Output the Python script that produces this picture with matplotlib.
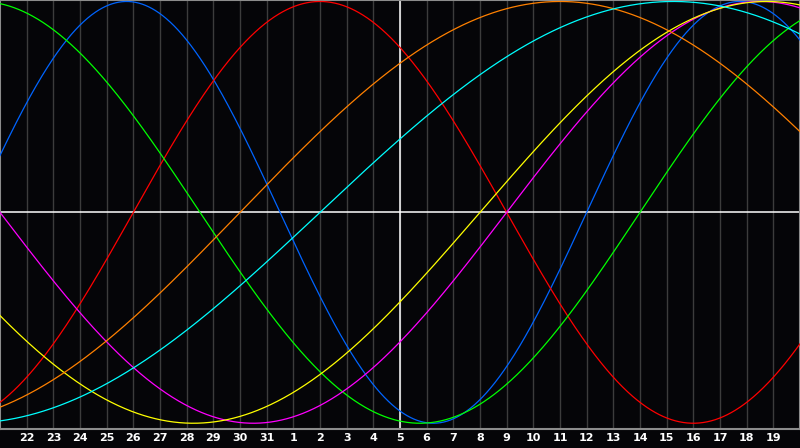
import numpy as np
import matplotlib
matplotlib.use('Agg')
import matplotlib.pyplot as plt

# days of the month shown along the bottom (first and last slot unlabeled)
day_labels = ['22', '23', '24', '25', '26', '27', '28', '29', '30', '31',
              '1', '2', '3', '4', '5', '6', '7', '8', '9', '10',
              '11', '12', '13', '14', '15', '16', '17', '18', '19']
num_days = 30

# days lived at the left edge of the chart
days_lived = 30039

# cycles: physical, emotional, intellectual, intuitive, aesthetic, awareness, spiritual
cycle_names = ['physical', 'emotional', 'intellectual', 'intuitive',
               'aesthetic', 'awareness', 'spiritual']
cycle_periods = [23, 28, 33, 38, 43, 48, 53]
cycle_colors = ['#0064ff', '#ff0000', '#00ff00', '#ff00ff',
                '#ffff00', '#ff8000', '#00ffff']

bg = '#050508'

fig = plt.figure(figsize=(8, 4.48), dpi=100, facecolor=bg)
ax = fig.add_axes([0, 0.0435, 1, 0.9565])
ax.set_facecolor(bg)

# vertical day grid
for d in range(1, num_days):
    ax.axvline(d, color='#3c3c3c', lw=1.0, zorder=1)

# center cross (today / zero line)
ax.axvline(num_days / 2, color='white', lw=1.1, zorder=2)
ax.axhline(0, color='white', lw=1.1, zorder=2)

# biorhythm curves
x = np.linspace(0, num_days, 1200)
for name, period, color in zip(cycle_names, cycle_periods, cycle_colors):
    ax.plot(x, np.sin(2 * np.pi * (days_lived + x) / period),
            color=color, lw=0.9, label=name, zorder=3)

ax.set_xlim(0, num_days)
ax.set_ylim(-1.025, 1.007)

ax.set_xticks(range(1, num_days))
ax.set_xticklabels(day_labels)
ax.set_yticks([])
ax.tick_params(axis='x', length=0, pad=3, colors='white', labelsize=8)
for lbl in ax.get_xticklabels():
    lbl.set_fontweight('bold')

for sp in ax.spines.values():
    sp.set_color('#8c8c8c')
    sp.set_linewidth(1.5)

fig.savefig('out.png', dpi=100, facecolor=bg)
